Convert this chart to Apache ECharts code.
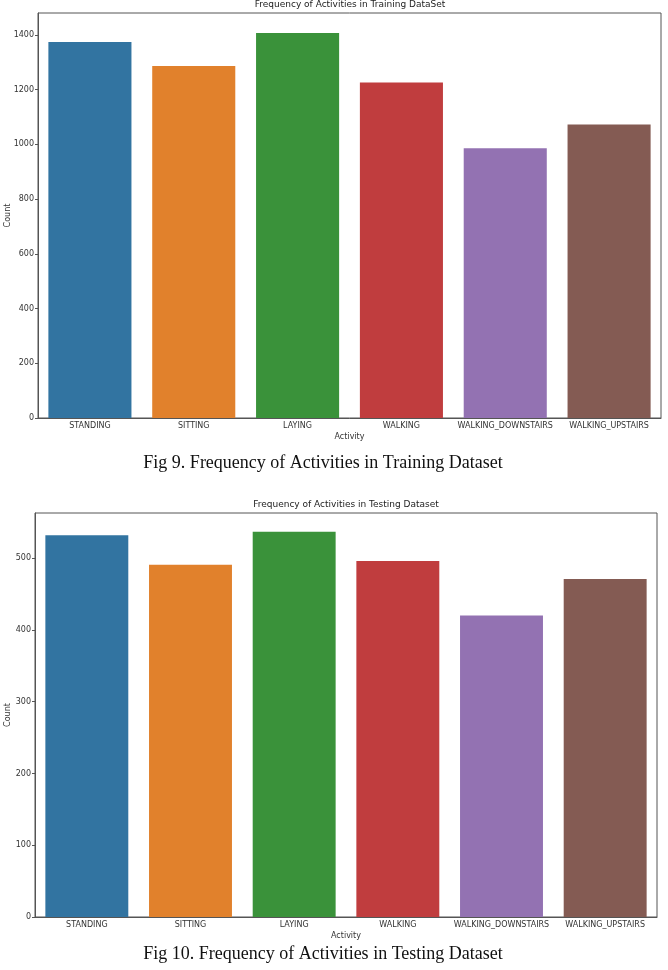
<!DOCTYPE html>
<html>
<head>
<meta charset="utf-8">
<script src="https://cdn.jsdelivr.net/npm/echarts@6/dist/echarts.min.js"></script>
<style>
  html, body { margin: 0; padding: 0; background: #fff; }
</style>
</head>
<body>
<div id="main" style="width: 668px;height: 970px;"></div>
<script>
  // data
  var activities = ['STANDING', 'SITTING', 'LAYING', 'WALKING', 'WALKING_DOWNSTAIRS', 'WALKING_UPSTAIRS']
  var trainCounts = [1374, 1286, 1407, 1226, 986, 1073]
  var testCounts = [532, 491, 537, 496, 420, 471]
  var barColors = ['#3274a1', '#e1812c', '#3a923a', '#c03d3e', '#9372b2', '#845b53']

  var axisColor = '#555'
  var labelColor = '#333'
  var font = 'DejaVu Sans'

  function bars(values, idx) {
    return {
      type: 'bar',
      xAxisIndex: idx,
      yAxisIndex: idx,
      barCategoryGap: '20%',
      data: values.map(function (v, i) {
        return { value: v, itemStyle: { color: barColors[i] } }
      })
    }
  }

  function xAxis(idx) {
    return {
      type: 'category',
      gridIndex: idx,
      data: activities,
      name: 'Activity',
      nameLocation: 'middle',
      nameGap: 15,
      nameTextStyle: { fontSize: 8, color: labelColor, fontFamily: font },
      axisLine: { lineStyle: { color: axisColor, width: 1 } },
      axisTick: { alignWithLabel: true, length: 3, lineStyle: { color: axisColor } },
      axisLabel: { fontSize: 8, color: labelColor, fontFamily: font, margin: 4, interval: 0 }
    }
  }

  function yAxis(idx, max, interval, gap) {
    return {
      type: 'value',
      gridIndex: idx,
      min: 0,
      max: max,
      interval: interval,
      name: 'Count',
      nameLocation: 'middle',
      nameGap: gap,
      nameMoveOverlap: false,
      nameTextStyle: { fontSize: 8, color: labelColor, fontFamily: font },
      splitLine: { show: false },
      axisLine: { show: true, lineStyle: { color: axisColor, width: 1 } },
      axisTick: { show: true, length: 3, lineStyle: { color: axisColor } },
      axisLabel: {
        fontSize: 8, color: labelColor, fontFamily: font, margin: 4, showMaxLabel: false,
        formatter: function (v) { return String(v) }
      }
    }
  }

  function label(text, x, y, size, family, color) {
    return {
      type: 'text', x: x, y: y,
      style: { text: text, fontSize: size, fontFamily: family, fill: color, textAlign: 'center', textVerticalAlign: 'middle' }
    }
  }

  var chart = echarts.init(document.getElementById('main'))
  chart.setOption({
    animation: false,
    backgroundColor: '#fff',
    graphic: [
      label('Frequency of Activities in Training DataSet', 350, 5, 9, font, '#222'),
      label('Frequency of Activities in Testing Dataset', 346, 505, 9, font, '#222'),
      label('Fig 9. Frequency of Activities in Training Dataset', 323, 463, 18, 'Liberation Serif', '#111'),
      label('Fig 10. Frequency of Activities in Testing Dataset', 323, 954, 18, 'Liberation Serif', '#111')
    ],
    grid: [
      { left: 38, right: 7, top: 13, height: 405, show: true, borderColor: axisColor, borderWidth: 1, outerBoundsMode: 'none' },
      { left: 35, right: 11, top: 513, height: 404, show: true, borderColor: axisColor, borderWidth: 1, outerBoundsMode: 'none' }
    ],
    xAxis: [xAxis(0), xAxis(1)],
    yAxis: [yAxis(0, 1480, 200, 26), yAxis(1, 563, 100, 23)],
    series: [bars(trainCounts, 0), bars(testCounts, 1)]
  })
</script>
</body>
</html>
